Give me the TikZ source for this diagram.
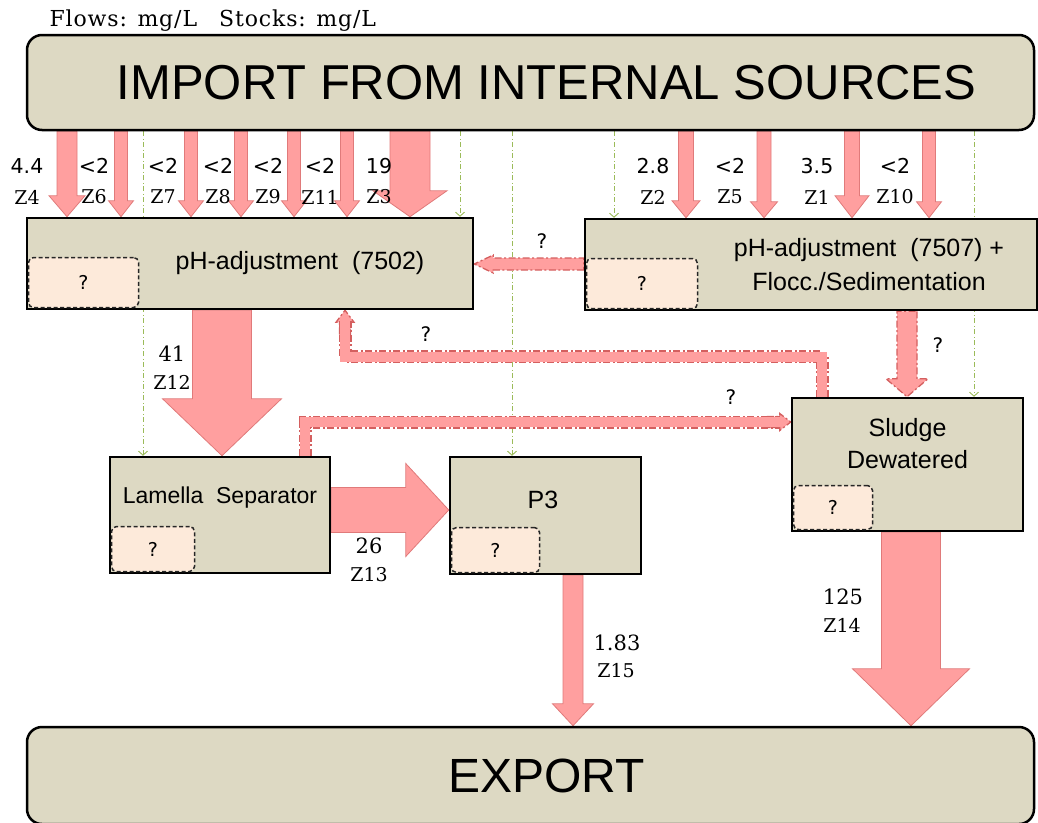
\documentclass[tikz,border=0pt]{standalone}
\usepackage{fontspec}
\setmainfont{Liberation Sans}
\newfontfamily\numsans{DejaVu Sans}
\newfontfamily\numserif{DejaVu Serif}
\usetikzlibrary{calc,backgrounds,arrows.meta}

\definecolor{unittan}{HTML}{DDD9C3}
\definecolor{stockpeach}{HTML}{FDEADA}
\definecolor{flowpink}{HTML}{FF9F9F}
\definecolor{flowred}{HTML}{E07A7A}
\definecolor{maybered}{HTML}{D45F5F}
\definecolor{tracegreen}{HTML}{9BBB59}

\tikzstyle{bigbox}=[rectangle,draw=black,line width=2.5pt,rounded corners=15pt,fill=unittan,inner sep=0pt]
\tikzstyle{unit}=[rectangle,draw=black,line width=2.5pt,fill=unittan,inner sep=0pt]
\tikzstyle{unitname}=[font=\fontsize{25}{34}\selectfont,align=center]
\tikzstyle{stock}=[rectangle,draw=black!85,dash pattern=on 4pt off 2.5pt,line width=1.5pt,rounded corners=5pt,fill=stockpeach,inner sep=0pt,anchor=south west,font=\numsans\fontsize{19}{21}\selectfont]
\tikzstyle{amount}=[font=\numsans\fontsize{20.5}{22}\selectfont]
\tikzstyle{bigamount}=[font=\numserif\fontsize{21}{23}\selectfont]
\tikzstyle{code}=[font=\numserif\fontsize{19}{21}\selectfont]
\tikzstyle{query}=[font=\numsans\fontsize{20}{22}\selectfont]
\tikzstyle{flow}=[fill=flowpink,draw=flowred,line width=0.8pt,line join=miter]
\tikzstyle{maybe}=[fill=flowpink,draw=maybered,line width=1.3pt,line join=miter,dash pattern=on 7pt off 2.5pt on 2pt off 2.5pt]
\tikzstyle{maybe elbow}=[draw=flowpink,line width=10.5pt,line join=miter,shorten >=11pt,preaction={draw=maybered,line width=13pt,dash pattern=on 7pt off 2.5pt on 2pt off 2.5pt}]
\tikzstyle{trace}=[draw=tracegreen,line width=0.9pt,dash pattern=on 5pt off 2.5pt on 1pt off 2.5pt,-{Straight Barb[length=4pt,width=9pt]}]

% block arrow: shaft width, head width, head length
\tikzset{
  block/.style n args={3}{to path={
    let \p1=(\tikztostart), \p2=(\tikztotarget),
        \n1={veclen(\x2-\x1,\y2-\y1)},
        \n2={(\x2-\x1)/\n1}, \n3={(\y2-\y1)/\n1} in
    ({\x1-(\n3)*(#1)/2},{\y1+(\n2)*(#1)/2})
    -- ({\x2-(\n2)*(#3)-(\n3)*(#1)/2},{\y2-(\n3)*(#3)+(\n2)*(#1)/2})
    -- ({\x2-(\n2)*(#3)-(\n3)*(#2)/2},{\y2-(\n3)*(#3)+(\n2)*(#2)/2})
    -- (\p2)
    -- ({\x2-(\n2)*(#3)+(\n3)*(#2)/2},{\y2-(\n3)*(#3)-(\n2)*(#2)/2})
    -- ({\x2-(\n2)*(#3)+(\n3)*(#1)/2},{\y2-(\n3)*(#3)-(\n2)*(#1)/2})
    -- ({\x1+(\n3)*(#1)/2},{\y1-(\n2)*(#1)/2})
    -- cycle}},
}

\begin{document}
\begin{tikzpicture}[x=1pt,y=-1pt]
\useasboundingbox (0,0) rectangle (1038,822);

\node (units) [anchor=west,font=\numserif\fontsize{22}{24}\selectfont\addfontfeature{LetterSpace=4}] at (46,21) {Flows: mg/L\hspace{22pt}Stocks: mg/L};

\node (import) [bigbox,minimum width=1007pt,minimum height=95pt,
  label={[name=importname,xshift=16pt,font=\fontsize{49}{55}\selectfont]center:IMPORT FROM INTERNAL SOURCES}] at (530.5,82.5) {};
\node (export) [bigbox,minimum width=1007pt,minimum height=97pt,
  label={[name=exportname,xshift=16pt,font=\fontsize{48}{55}\selectfont]center:EXPORT}] at (530.5,775.5) {};

\node (ph2) [unit,minimum width=446pt,minimum height=91pt,
  label={[name=ph2name,unitname,xshift=50pt]center:pH-adjustment\ \ (7502)}] at (250,263.5) {};
\node (ph7) [unit,minimum width=452pt,minimum height=91pt,
  label={[name=ph7name,unitname,xshift=58pt]center:pH-adjustment\ \ (7507) +\\Flocc./Sedimentation}] at (811,264.5) {};
\node (lamella) [unit,minimum width=220pt,minimum height=116pt,
  label={[name=lamellaname,unitname,font=\fontsize{23}{30}\selectfont,yshift=17pt]center:Lamella\ \ Separator}] at (220,515) {};
\node (p3) [unit,minimum width=191pt,minimum height=117pt,
  label={[name=p3name,unitname,xshift=-2.5pt,yshift=15.5pt]center:P3}] at (545.5,515.5) {};
\node (sludge) [unit,minimum width=231pt,minimum height=133pt,
  label={[name=sludgename,unitname,font=\fontsize{25}{32}\selectfont,yshift=20.5pt]center:Sludge\\Dewatered}] at (907.5,464.5) {};

% stocks, all unknown
\node (sph2) [stock,minimum width=110pt,minimum height=50pt] at ([shift={(2pt,2pt)}]ph2.south west) {?};
\node (sph7) [stock,minimum width=111pt,minimum height=50pt] at ([shift={(2pt,2pt)}]ph7.south west) {?};
\node (slamella) [stock,minimum width=83pt,minimum height=45pt] at ([shift={(2pt,2pt)}]lamella.south west) {?};
\node (sp3) [stock,minimum width=88pt,minimum height=45pt] at ([shift={(2pt,2pt)}]p3.south west) {?};
\node (ssludge) [stock,minimum width=79pt,minimum height=44pt] at ([shift={(2pt,2pt)}]sludge.south west) {?};

\begin{scope}[on background layer]
% checked but empty
\foreach \px/\t in {143/lamella,460/ph2,512/p3,614/ph7,974/sludge}
  \draw [trace] (import.south -| \px,0) -- (\t.north -| \px,0);

% inputs
\foreach \px/\sw/\hw/\hl in {67/20/36/21,121/13/25/16,191/13/25/16,241/13/25/16,294/13/25/16,347/13/25/16,410/40/74/26}
  \draw [flow] (import.south -| \px,0) to [block={\sw}{\hw}{\hl}] (ph2.north -| \px,0);
\foreach \px/\sw/\hw/\hl in {686/15/28/17,764/14/27/16,852/15/34/22,929/13/25/16}
  \draw [flow] (import.south -| \px,0) to [block={\sw}{\hw}{\hl}] (ph7.north -| \px,0);

\draw [flow] (ph2.south -| 222,0) to [block={59}{119}{57}] (lamella.north -| 222,0);
\draw [flow] (lamella.east |- 0,510) to [block={45}{93}{43}] (p3.west |- 0,510);
\draw [flow] (p3.south -| 573,0) to [block={20}{41}{22}] (export.north -| 573,0);
\draw [flow] (sludge.south -| 911,0) to [block={59}{117}{57}] (export.north -| 911,0);

% unknown flows
\draw [maybe] (ph7.west |- 0,264) to [block={12}{18}{19}] (ph2.east |- 0,264);
\draw [maybe] (ph7.south -| 907,0) to [block={20}{42}{18}] (sludge.north -| 907,0);
\draw [maybe] (ph2.south -| 345,0) ++(0,24) to [block={11}{18}{12}] (ph2.south -| 345,0);
\draw [maybe elbow] (sludge.north -| 822,0) -- ++(0,-40) -| (ph2.south -| 345,0);
\draw [maybe] (sludge.west |- 0,422) ++(-24,0) to [block={11}{17}{11}] (sludge.west |- 0,422);
\draw [maybe elbow] (lamella.north -| 305,0) |- (sludge.west |- 0,422);
\end{scope}

\foreach \px/\v/\z in {27/4.4/Z4,94/<2/Z6,163/<2/Z7,218/<2/Z8,268/<2/Z9,320/<2/Z11,379/19/Z3,653/2.8/Z2,730/<2/Z5,817/3.5/Z1,895/<2/Z10}{
  \node (v\z) [amount] at (\px,166) {\v};
  \node (c\z) [code] at (\px,197) {\z};
}
\node (vZ12) [bigamount] at (172,354) {41};
\node (cZ12) [code] at (172,382) {Z12};
\node (vZ13) [bigamount] at (369,546) {26};
\node (cZ13) [code] at (369,575) {Z13};
\node (vZ15) [bigamount] at (617,643) {1.83};
\node (cZ15) [code] at (616,671) {Z15};
\node (vZ14) [bigamount] at (843,597) {125};
\node (cZ14) [code] at (842,625) {Z14};

\node (q1) [query] at (542,241) {?};
\node (q2) [query] at (426,334) {?};
\node (q3) [query] at (731,397) {?};
\node (q4) [query] at (938,345) {?};

\end{tikzpicture}
\end{document}
